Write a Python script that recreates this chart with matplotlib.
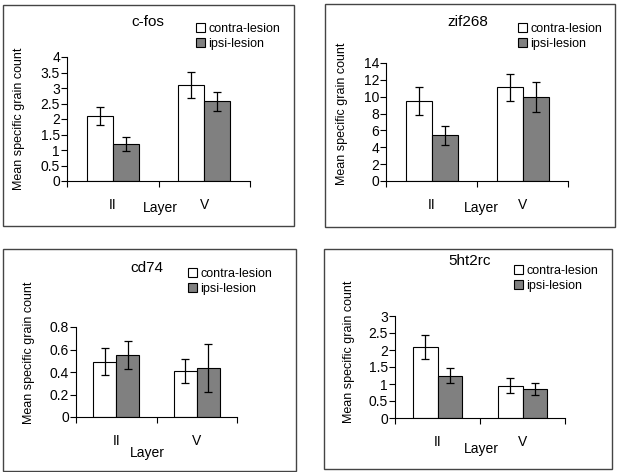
import matplotlib
matplotlib.use("Agg")
import matplotlib.pyplot as plt
from matplotlib.patches import Rectangle, Patch

plt.rcParams["font.family"] = ["Liberation Sans", "DejaVu Sans"]

layers = ["II", "V"]
series = ["contra-lesion", "ipsi-lesion"]

cfos_contra = [2.1, 3.1]
cfos_contra_err = [0.3, 0.43]
cfos_ipsi = [1.2, 2.57]
cfos_ipsi_err = [0.22, 0.3]

zif_contra = [9.5, 11.1]
zif_contra_err = [1.7, 1.6]
zif_ipsi = [5.4, 10.0]
zif_ipsi_err = [1.1, 1.8]

cd74_contra = [0.49, 0.41]
cd74_contra_err = [0.12, 0.105]
cd74_ipsi = [0.555, 0.435]
cd74_ipsi_err = [0.125, 0.21]

ht_contra = [2.08, 0.95]
ht_contra_err = [0.35, 0.22]
ht_ipsi = [1.25, 0.85]
ht_ipsi_err = [0.23, 0.18]

W, H = 618, 472
fig = plt.figure(figsize=(W / 100, H / 100), dpi=100)


def px_rect(x0, y0, x1, y1):
    return [x0 / W, 1 - y1 / H, (x1 - x0) / W, (y1 - y0) / H]


panels = [
    dict(title="c-fos", box=(3, 5, 294, 226), ax=(67, 57, 250, 181),
         contra=cfos_contra, contra_err=cfos_contra_err,
         ipsi=cfos_ipsi, ipsi_err=cfos_ipsi_err,
         ylim=4, step=0.5, title_xy=(148, 22), leg_xy=(196, 23), ylab=(-0.23, 0.5),
         layer_xy=(160, 208)),
    dict(title="zif268", box=(325, 4, 615, 227), ax=(386, 63, 568, 181),
         contra=zif_contra, contra_err=zif_contra_err,
         ipsi=zif_ipsi, ipsi_err=zif_ipsi_err,
         ylim=14, step=2, title_xy=(468, 22), leg_xy=(518, 23), ylab=(-0.21, 0.57),
         layer_xy=(481, 208)),
    dict(title="cd74", box=(3, 249, 296, 471), ax=(76, 327, 237, 417),
         contra=cd74_contra, contra_err=cd74_contra_err,
         ipsi=cd74_ipsi, ipsi_err=cd74_ipsi_err,
         ylim=0.8, step=0.2, title_xy=(147, 268), leg_xy=(188, 268), ylab=(-0.255, 0.71),
         layer_xy=(147, 453)),
    dict(title="5ht2rc", box=(324, 249, 612, 469), ax=(395, 316, 565, 418),
         contra=ht_contra, contra_err=ht_contra_err,
         ipsi=ht_ipsi, ipsi_err=ht_ipsi_err,
         ylim=3, step=0.5, title_xy=(470, 261), leg_xy=(514, 265), ylab=(-0.235, 0.65),
         layer_xy=(481, 449)),
]

bw = 1 / 3.5
x = [0, 1]

for p in panels:
    bx0, by0, bx1, by1 = p["box"]
    fig.patches.append(Rectangle((bx0 / W, 1 - by1 / H), (bx1 - bx0) / W, (by1 - by0) / H,
                                 transform=fig.transFigure, fill=False,
                                 edgecolor="#444444", linewidth=1.0))

    ax = fig.add_axes(px_rect(*p["ax"]))
    ax.patch.set_alpha(0)
    ekw = dict(ecolor="black", elinewidth=0.9, capsize=3, capthick=0.9)
    ax.bar([i - bw / 2 for i in x], p["contra"], bw, yerr=p["contra_err"],
           color="white", edgecolor="black", linewidth=0.8, error_kw=ekw, zorder=2)
    ax.bar([i + bw / 2 for i in x], p["ipsi"], bw, yerr=p["ipsi_err"],
           color="#808080", edgecolor="black", linewidth=0.8, error_kw=ekw, zorder=2)

    ax.set_xlim(-0.5, 1.5)
    ax.set_ylim(0, p["ylim"])
    n = int(round(p["ylim"] / p["step"]))
    ticks = [round(k * p["step"], 3) for k in range(n + 1)]
    ax.set_yticks(ticks)
    ax.set_yticklabels([f"{t:g}" for t in ticks])
    ax.set_xticks([-0.5, 0.5, 1.5])
    ax.set_xticklabels([])
    ax.set_xticks(x, minor=True)
    ax.set_xticklabels(layers, minor=True)
    ax.tick_params(axis="x", which="minor", length=0, pad=12, labelsize=10)
    ax.tick_params(axis="x", which="major", length=4, direction="out", width=0.8)
    ax.tick_params(axis="y", length=4, direction="out", width=0.8, labelsize=10, pad=1)
    for s in ["top", "right"]:
        ax.spines[s].set_visible(False)
    ax.spines["left"].set_linewidth(0.8)
    ax.spines["bottom"].set_linewidth(0.8)

    ax.set_ylabel("Mean specific grain count", fontsize=9)
    ax.yaxis.set_label_coords(*p["ylab"])

    fig.text(p["layer_xy"][0] / W, 1 - p["layer_xy"][1] / H, "Layer",
             ha="center", va="center", fontsize=10)
    fig.text(p["title_xy"][0] / W, 1 - p["title_xy"][1] / H, p["title"],
             ha="center", va="center", fontsize=11)

    handles = [Patch(facecolor="white", edgecolor="black", linewidth=0.8),
               Patch(facecolor="#808080", edgecolor="black", linewidth=0.8)]
    fig.legend(handles, series, loc="upper left",
               bbox_to_anchor=(p["leg_xy"][0] / W, 1 - p["leg_xy"][1] / H),
               frameon=False, fontsize=9, handlelength=0.75, handleheight=0.75,
               handletextpad=0.25, labelspacing=0.25, borderpad=0, borderaxespad=0)

fig.savefig("out.png", dpi=100)
